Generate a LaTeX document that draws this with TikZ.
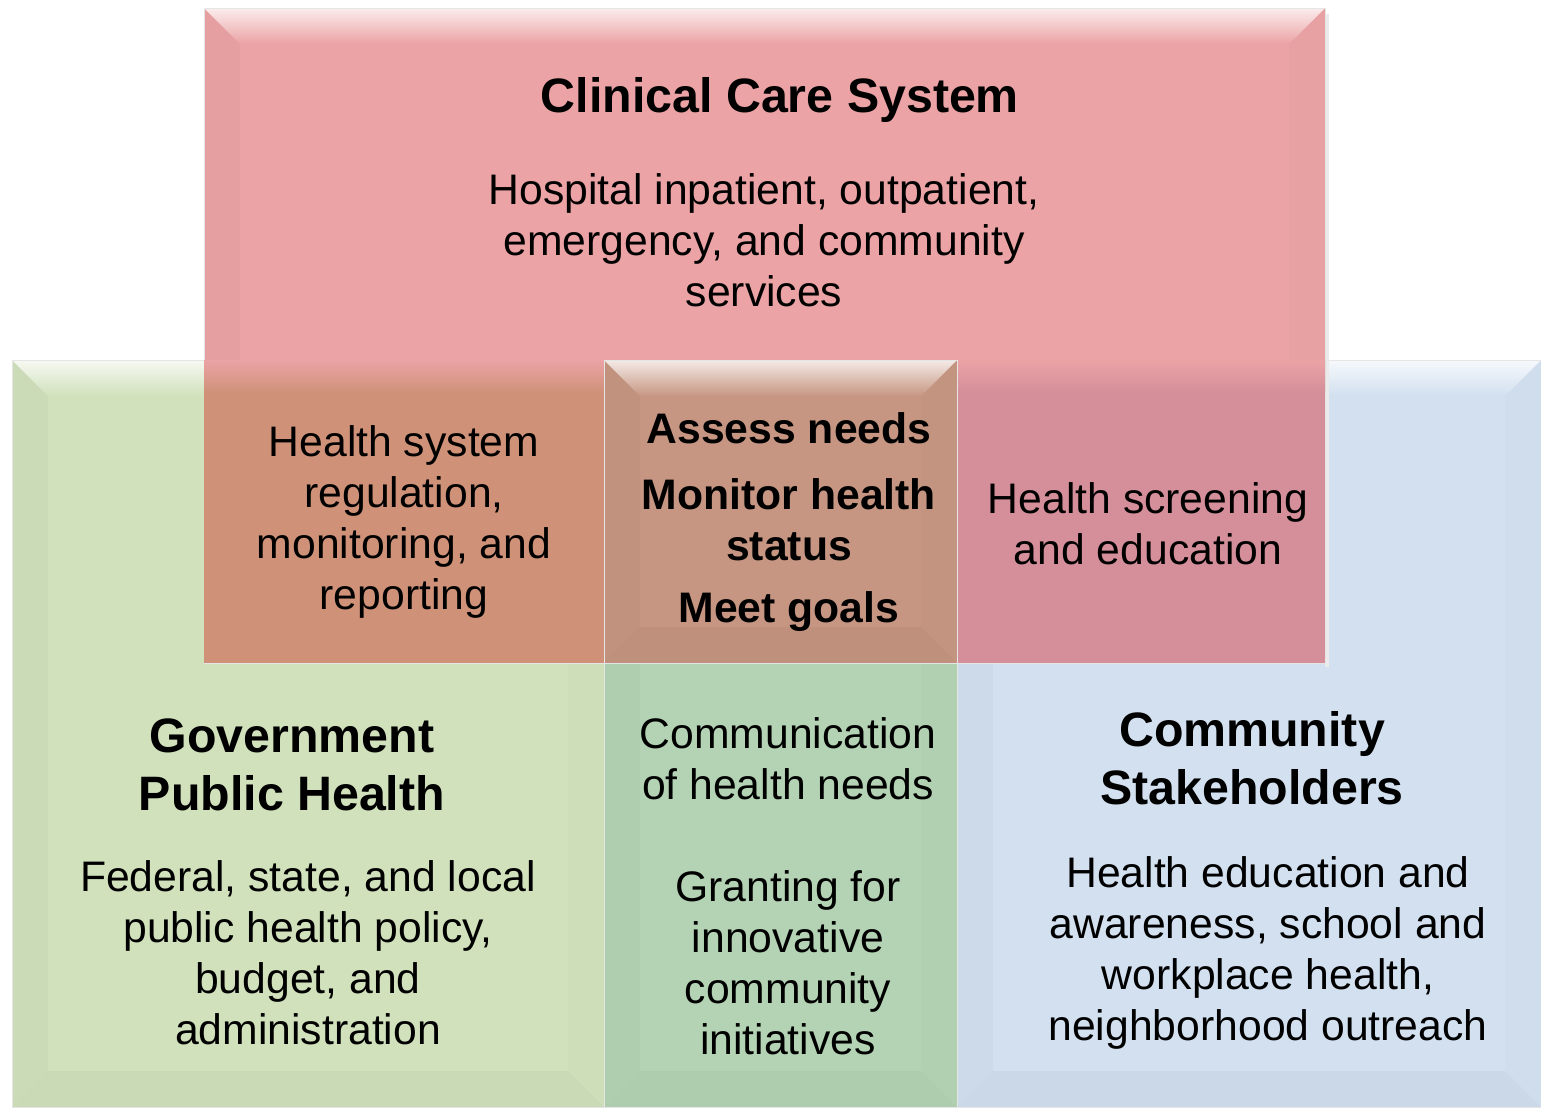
\documentclass[tikz,border=0pt]{standalone}
\usepackage{fontspec}
\setmainfont{Liberation Sans}
\usepackage{tikz}
\usetikzlibrary{calc}
\definecolor{clinicred}{HTML}{EBA3A5}
\definecolor{govgreen}{HTML}{D1E1BC}
\definecolor{midgreen}{HTML}{B4D3B4}
\definecolor{commblue}{HTML}{D2E0EF}
\definecolor{govclinic}{HTML}{CF9279}
\definecolor{coreclinic}{HTML}{C69682}
\definecolor{commclinic}{HTML}{D48F9A}
\tikzstyle{bodytext} = [align=center, inner sep=0pt, text=black, font=\fontsize{24.3}{29}\selectfont]
\tikzstyle{boldtext} = [bodytext, font=\fontsize{24.3}{29}\selectfont\bfseries]
\tikzstyle{titletext} = [align=center, inner sep=0pt, text=black, font=\fontsize{27.5}{33}\selectfont\bfseries]
% bevelled panel: x1 y1 x2 y2 colour (pixel units)
\newcommand{\bevelbox}[5]{%
  \fill[#5] (#1,#2) rectangle (#3,#4);
  \shade[top color=#5!20!white, bottom color=#5] (#1,#2) -- (#3,#2) -- ({#3-36},{#2+36}) -- ({#1+36},{#2+36}) -- cycle;
  \fill[black, opacity=0.025] (#1,#2) -- ({#1+36},{#2+36}) -- ({#1+36},{#4-36}) -- (#1,#4) -- cycle;
  \fill[black, opacity=0.012] (#3,#2) -- ({#3-36},{#2+36}) -- ({#3-36},{#4-36}) -- (#3,#4) -- cycle;
  \fill[black, opacity=0.03] (#1,#4) -- ({#1+36},{#4-36}) -- ({#3-36},{#4-36}) -- (#3,#4) -- cycle;
  \draw[black!10, line width=0.5pt] (#1,#2) rectangle (#3,#4);
}
\begin{document}
\begin{tikzpicture}[x=0.02cm, y=-0.02cm]
  \useasboundingbox (0,0) rectangle (1541,1107);
  %panels
  \bevelbox{12}{360}{604}{1107}{govgreen}
  \bevelbox{957}{360}{1541}{1107}{commblue}
  \bevelbox{604}{360}{957}{1107}{midgreen}
  \fill[black!8] (1325,14) rectangle (1329,667);
  \bevelbox{204}{8}{1325}{663}{clinicred}
  %overlaps
  \fill[govclinic] (204,360) rectangle (604,663);
  \shade[top color=clinicred, bottom color=govclinic] (204,360) rectangle (604,392);
  \fill[commclinic] (957,360) rectangle (1325,663);
  \shade[top color=clinicred, bottom color=commclinic] (957,360) rectangle (1325,392);
  \bevelbox{604}{360}{957}{663}{coreclinic}

  %texts
  \node[titletext] (clinicTitle) at (780,100) {Clinical Care System};
  \node[bodytext] (clinicText) at (764,240) {Hospital inpatient, outpatient,\\emergency, and community\\services};
  \node[bodytext] (regText) at (404,522) {Health system\\regulation,\\monitoring, and\\reporting};
  \node[boldtext] (assessText) at (789,428) {Assess needs};
  \node[boldtext] (monitorText) at (789,520) {Monitor health\\status};
  \node[boldtext] (goalsText) at (789,612) {Meet goals};
  \node[bodytext] (screenText) at (1148,524) {Health screening\\and education};
  \node[titletext] (govTitle) at (292,765) {Government\\Public Health};
  \node[bodytext] (govText) at (308,953) {Federal, state, and local\\public health policy,\\budget, and\\administration};
  \node[bodytext] (commText) at (788,759) {Communication\\of health needs};
  \node[bodytext] (grantText) at (788,963) {Granting for\\innovative\\community\\initiatives};
  \node[titletext] (stakeTitle) at (1252,758) {Community\\Stakeholders};
  \node[bodytext] (stakeText) at (1268,953) {Health education and\\awareness, school and\\workplace health,\\neighborhood outreach};
\end{tikzpicture}
\end{document}
